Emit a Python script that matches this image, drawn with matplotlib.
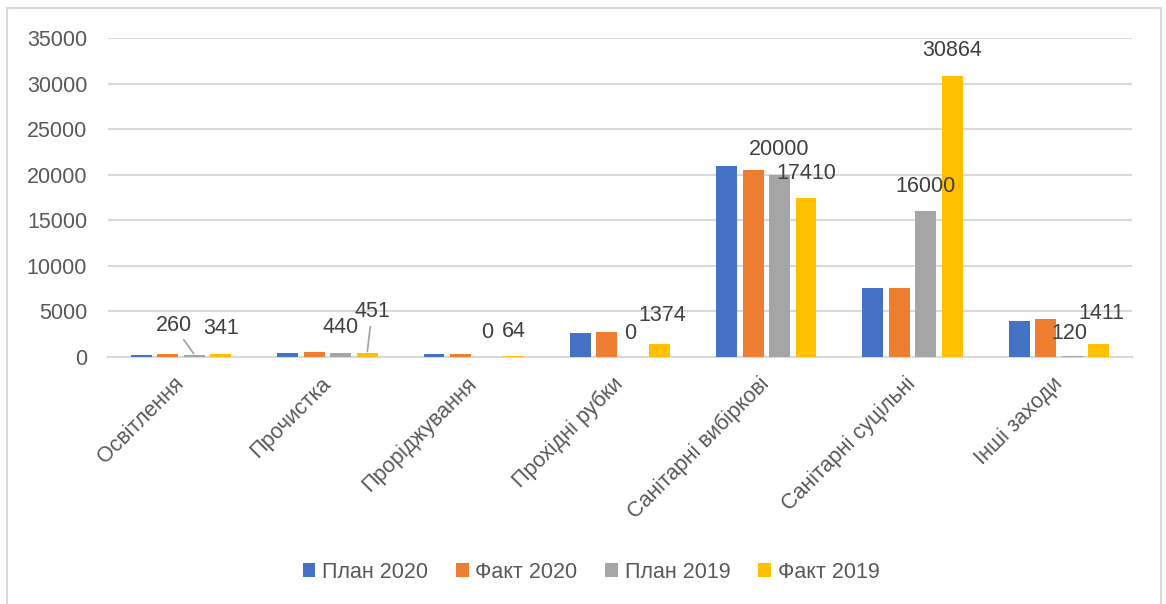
import numpy as np
import matplotlib
matplotlib.use('Agg')
import matplotlib.pyplot as plt
from matplotlib.patches import Rectangle

plt.rcParams['font.family'] = ['Liberation Sans', 'DejaVu Sans']

categories = ['Освітлення', 'Прочистка', 'Проріджування', 'Прохідні рубки',
              'Санітарні вибіркові', 'Санітарні суцільні', 'Інші заходи']
plan_2020 = [200, 400, 350, 2600, 20950, 7600, 3950]
fakt_2020 = [350, 550, 350, 2700, 20500, 7600, 4130]
plan_2019 = [260, 440, 0, 0, 20000, 16000, 120]
fakt_2019 = [341, 451, 64, 1374, 17410, 30864, 1411]
series_names = ['План 2020', 'Факт 2020', 'План 2019', 'Факт 2019']
series_colors = ['#4472C4', '#ED7D31', '#A5A5A5', '#FFC000']
yticks = [0, 5000, 10000, 15000, 20000, 25000, 30000, 35000]

# which series get value labels, and the hand-moved ones (offset in points)
labelled = [2, 3]
moved = {(2, 0): (-15, 21), (3, 1): (3.5, 29.5)}
nudged = {(2, 3): (-2, 17), (3, 3): (2, 21), (2, 6): (-2, 16), (3, 6): (2, 22)}

fig = plt.figure(figsize=(11.66, 6.04), dpi=100)
ax = fig.add_axes([108 / 1166, 1 - 357 / 604, 1024 / 1166, 319 / 604])

# outer chart frame
fig.patches.append(Rectangle((7 / 1166, -0.02), 1154 / 1166, 1.02 - 8 / 604,
                             transform=fig.transFigure, fill=False,
                             edgecolor='#d9d9d9', linewidth=1.5))

x = np.arange(len(categories))
step = 0.181
width = 0.143
all_series = [plan_2020, fakt_2020, plan_2019, fakt_2019]
for k, vals in enumerate(all_series):
    xs = x + (k - 1.5) * step
    ax.bar(xs, vals, width, color=series_colors[k], label=series_names[k], zorder=3)
    if k not in labelled:
        continue
    for i, v in enumerate(vals):
        off = moved.get((k, i), nudged.get((k, i), (0, 18)))
        arrow = None
        if (k, i) in moved:
            arrow = dict(arrowstyle='-', color='#a6a6a6', lw=1.3, shrinkA=1, shrinkB=1)
        ax.annotate(str(v), (xs[i], v), xytext=off, textcoords='offset points',
                    ha='center', va='center', fontsize=15.5, color='#404040',
                    arrowprops=arrow, zorder=4)

ax.set_xlim(-0.5, len(categories) - 0.5)
ax.set_ylim(0, 35000)
ax.set_yticks(yticks)
ax.set_yticklabels([str(t) for t in yticks])
ax.yaxis.grid(True, color='#d9d9d9', linewidth=1.5, zorder=0)
ax.set_axisbelow(True)
for s in ['top', 'right', 'left']:
    ax.spines[s].set_visible(False)
ax.spines['bottom'].set_color('#d9d9d9')
ax.spines['bottom'].set_linewidth(1.5)
ax.tick_params(axis='y', length=0, pad=15, labelsize=15.5, labelcolor='#595959')
ax.tick_params(axis='x', length=0, pad=17, labelsize=15.5, labelcolor='#595959')
ax.set_xticks(x)
ax.set_xticklabels(categories, rotation=45, ha='right', va='center',
                   rotation_mode='anchor')

leg = fig.legend(loc='center', bbox_to_anchor=(591 / 1166, 1 - 572 / 604), ncol=4,
                 frameon=False, fontsize=15.5, handlelength=0.6, handleheight=0.6,
                 handletextpad=0.3, columnspacing=1.3)
for t in leg.get_texts():
    t.set_color('#595959')

fig.savefig('out.png', dpi=100)
